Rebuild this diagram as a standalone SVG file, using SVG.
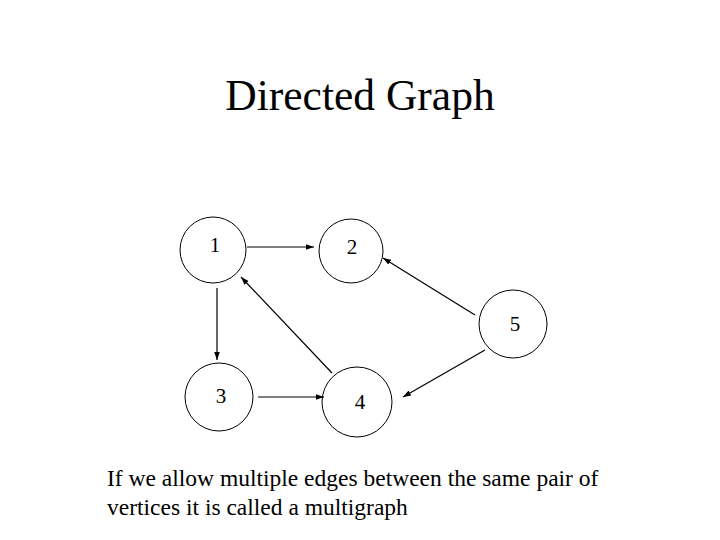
<svg xmlns="http://www.w3.org/2000/svg" width="720" height="540" viewBox="0 0 720 540">
<style>
text{font-family:"Liberation Serif",serif;fill:#000}
.n circle{fill:#fff;stroke:#000;stroke-width:1}
.n text{font-size:21px;text-anchor:middle}
.e line{stroke:#000;stroke-width:1.2;marker-end:url(#a)}
</style>
<defs><marker id="a" viewBox="0 0 10 10" refX="10" refY="5" markerWidth="8" markerHeight="8" orient="auto" markerUnits="userSpaceOnUse"><path d="M0,1.5L10,5L0,8.5z" fill="#000"/></marker></defs>
<rect width="720" height="540" fill="#fff"/>
<text x="360" y="110" font-size="43.5" text-anchor="middle">Directed Graph</text>
<g id="n1" class="n"><circle cx="213" cy="250" r="33"/><text x="215" y="252">1</text></g>
<g id="n2" class="n"><circle cx="351" cy="251" r="32"/><text x="352" y="254">2</text></g>
<g id="n3" class="n"><circle cx="219" cy="397" r="34"/><text x="221" y="403">3</text></g>
<g id="n4" class="n"><circle cx="357" cy="402" r="35"/><text x="360" y="409">4</text></g>
<g id="n5" class="n"><circle cx="513" cy="324" r="34"/><text x="515" y="331">5</text></g>
<g id="edges" class="e">
<line x1="247" y1="247" x2="314" y2="247"/>
<line x1="217" y1="288" x2="217" y2="360"/>
<line x1="258" y1="397" x2="324" y2="397"/>
<line x1="332" y1="373" x2="241" y2="277"/>
<line x1="475" y1="315" x2="383" y2="258"/>
<line x1="485" y1="350" x2="403" y2="397"/>
</g>
<text x="107" y="486" font-size="23.5">If we allow multiple edges between the same pair of</text>
<text x="107" y="515" font-size="23.5">vertices it is called a multigraph</text>
</svg>
